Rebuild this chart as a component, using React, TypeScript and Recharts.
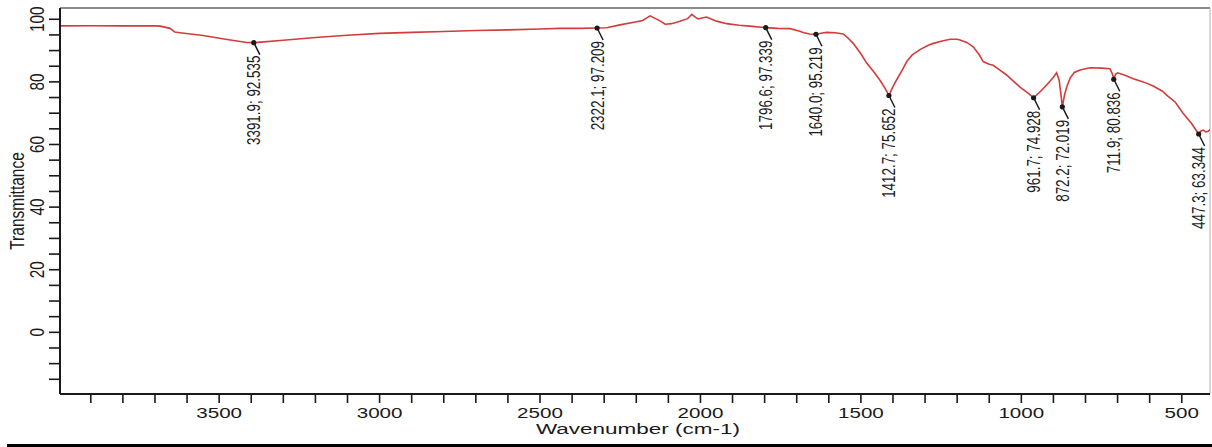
import { ComposedChart, Line, Scatter, XAxis, YAxis, ReferenceLine } from 'recharts'

// spectrum (wavenumber cm-1, transmittance %)
const wavenumbers = [
  3996, 3900, 3800, 3700, 3684, 3653, 3638, 3622, 3550, 3480, 3414, 3391.9, 3370, 3300, 3200,
  3100, 3000, 2900, 2800, 2700, 2600, 2500, 2438, 2380, 2322.1, 2292, 2251, 2199, 2180, 2157,
  2126, 2110, 2090, 2064, 2040, 2027, 2015, 2007, 1995, 1981, 1965, 1950, 1918, 1880, 1846,
  1796.6, 1760, 1721, 1690, 1680, 1660, 1640.0, 1620, 1607, 1580, 1555, 1540, 1524, 1500, 1482,
  1460, 1441, 1425, 1412.7, 1400, 1389, 1370, 1357, 1340, 1316, 1290, 1274, 1250, 1222, 1200,
  1191, 1170, 1150, 1130, 1119, 1100, 1088, 1070, 1046, 1004, 980, 961.7, 940, 921, 900,
  890, 882, 876, 872.2, 865, 858, 848, 835, 817, 786, 750, 724, 716, 711.9, 706,
  700, 675, 651, 620, 589, 560, 547, 520, 496, 470, 447.3, 440, 433, 425, 418, 412,
]
const transmittance = [
  97.9, 97.95, 97.9, 97.9, 97.8, 97.1, 95.9, 95.7, 94.8, 93.6, 92.6, 92.535, 92.7, 93.3, 94.2,
  94.9, 95.5, 95.8, 96.1, 96.4, 96.6, 96.9, 97.1, 97.1, 97.209, 97.3, 98.2, 99.2, 99.6, 101.1,
  99.5, 98.4, 98.6, 99.4, 100.2, 101.6, 100.6, 100.1, 100.4, 100.7, 100.0, 99.4, 98.6, 98.1, 97.8,
  97.339, 97.1, 97.0, 96.2, 95.8, 95.3, 95.219, 95.6, 95.8, 95.7, 95.3, 94.0, 92.3, 89.0, 86.0,
  83.2, 80.6, 78.0, 75.652, 78.5, 80.6, 84.0, 86.5, 88.6, 90.3, 91.7, 92.3, 93.0, 93.6, 93.6,
  93.4, 92.6, 91.2, 88.5, 86.5, 85.6, 85.3, 84.0, 82.2, 78.3, 76.5, 74.928, 77.0, 79.0, 81.5,
  82.9, 80.5, 75.5, 72.019, 76.0, 78.5, 81.2, 83.0, 83.8, 84.5, 84.4, 84.2, 82.5, 80.836, 82.5,
  82.9, 82.0, 81.0, 80.0, 78.7, 77.0, 75.8, 73.5, 70.0, 66.8, 63.344, 64.3, 64.6, 64.0, 64.2, 64.8,
]

// labelled peaks
const peakWavenumbers = [3391.9, 2322.1, 1796.6, 1640.0, 1412.7, 961.7, 872.2, 711.9, 447.3]
const peakTransmittance = [92.535, 97.209, 97.339, 95.219, 75.652, 74.928, 72.019, 80.836, 63.344]

const xTicks = [3900, 3800, 3700, 3600, 3500, 3400, 3300, 3200, 3100, 3000, 2900, 2800, 2700, 2600, 2500,
  2400, 2300, 2200, 2100, 2000, 1900, 1800, 1700, 1600, 1500, 1400, 1300, 1200, 1100, 1000, 900,
  800, 700, 600, 500]
const yTicks = [-15, -10, -5, 0, 5, 10, 15, 20, 25, 30, 35, 40, 45, 50, 55, 60, 65, 70, 75, 80, 85, 90, 95, 100]

const spectrum = wavenumbers.map((w, i) => ({ w, t: transmittance[i] }))
const peaks = peakWavenumbers.map((w, i) => ({ w, t: peakTransmittance[i] }))

const FONT = '"Liberation Sans", Arial, sans-serif'
const INK = '#1a1a1a'

// the original picture is stretched sideways, so text gets a scale too
const XTick = ({ x, y, payload }: any) => {
  if (payload.value % 500 !== 0) return <g />
  return (
    <text
      transform={`translate(${x}, ${y + 13}) scale(1.33, 1)`}
      textAnchor="middle"
      fontFamily={FONT}
      fontSize={15.5}
      fill={INK}
    >
      {payload.value}
    </text>
  )
}

const YTick = ({ x, y, payload }: any) => {
  if (payload.value % 20 !== 0) return <g />
  return (
    <text
      transform={`translate(${x - 3}, ${y}) rotate(-90) scale(1, 1.27)`}
      textAnchor="middle"
      fontFamily={FONT}
      fontSize={15.3}
      fill={INK}
    >
      {payload.value}
    </text>
  )
}

const PeakMark = ({ cx, cy, payload }: any) => {
  const label = `${payload.w.toFixed(1)}; ${payload.t.toFixed(3)}`
  return (
    <g>
      <line x1={cx} y1={cy} x2={cx + 6} y2={cy + 12} stroke={INK} strokeWidth={1.5} />
      <circle cx={cx} cy={cy} r={2.6} fill={INK} />
      <text
        transform={`translate(${cx + 6.5}, ${cy + 13}) rotate(-90) scale(1, 1.35)`}
        textAnchor="end"
        fontFamily={FONT}
        fontSize={13.4}
        fill={INK}
      >
        {label}
      </text>
    </g>
  )
}

const App = () => {
  return (
    <div style={{ position: 'absolute', left: 0, top: 0, width: 1212, height: 447, background: '#fff' }}>
      <ComposedChart width={1212} height={447} margin={{ top: 8, right: 2, left: 0, bottom: 0 }}>
        <XAxis
          dataKey="w"
          type="number"
          domain={[412, 3996]}
          reversed
          allowDataOverflow
          ticks={xTicks}
          interval={0}
          height={53}
          tickSize={9}
          tick={<XTick />}
          stroke={INK}
          axisLine={{ stroke: INK, strokeWidth: 2 }}
          tickLine={{ stroke: INK, strokeWidth: 1.6 }}
          label={{
            content: ({ viewBox }: any) => (
              <text
                transform={`translate(${viewBox.x + viewBox.width / 2 + 3}, ${viewBox.y + 40}) scale(1.5, 1)`}
                textAnchor="middle"
                fontFamily={FONT}
                fontSize={15}
                fill={INK}
              >
                Wavenumber (cm-1)
              </text>
            ),
          }}
        />
        <YAxis
          dataKey="t"
          type="number"
          domain={[-19.7, 103.6]}
          allowDataOverflow
          ticks={yTicks}
          interval={0}
          width={60}
          tickSize={11}
          tick={<YTick />}
          stroke={INK}
          axisLine={{ stroke: INK, strokeWidth: 2 }}
          tickLine={{ stroke: INK, strokeWidth: 1.6 }}
          label={{
            content: ({ viewBox }: any) => (
              <text
                transform={`translate(${24}, ${viewBox.y + viewBox.height / 2}) rotate(-90) scale(1, 1.25)`}
                textAnchor="middle"
                fontFamily={FONT}
                fontSize={15.5}
                fill={INK}
              >
                Transmittance
              </text>
            ),
          }}
        />
        <ReferenceLine y={103.6} stroke="#8a8a8a" strokeWidth={2} />
        <ReferenceLine x={412} stroke="#b0b0b0" strokeWidth={1} />
        <Line
          data={spectrum}
          dataKey="t"
          type="linear"
          stroke="#d43b3b"
          strokeWidth={1.6}
          dot={false}
          isAnimationActive={false}
        />
        <Scatter data={peaks} dataKey="t" shape={<PeakMark />} isAnimationActive={false} />
      </ComposedChart>
      <div style={{ position: 'absolute', left: 7, top: 444, width: 1205, height: 3, background: '#000' }} />
    </div>
  )
}

export default App
